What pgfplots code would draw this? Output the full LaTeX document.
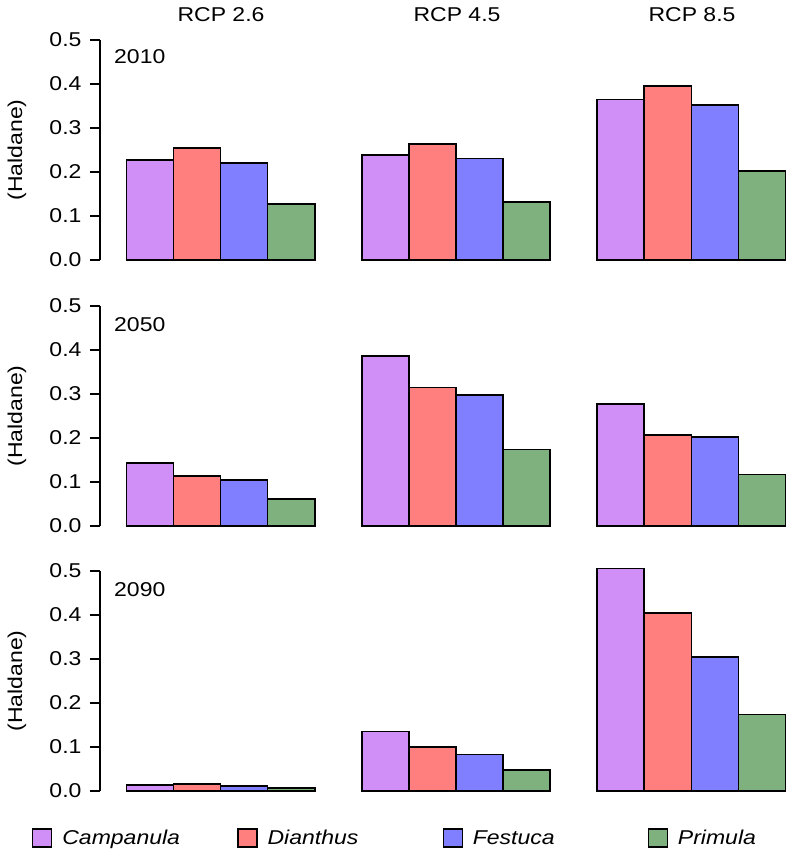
\documentclass[border=0pt]{standalone}
\usepackage{fontspec}
\setmainfont{Liberation Sans}[FakeStretch=1.15]
\usepackage{pgfplots}
\pgfplotsset{compat=1.18}
\definecolor{cCamp}{RGB}{207,143,247}
\definecolor{cDian}{RGB}{255,127,127}
\definecolor{cFest}{RGB}{127,127,255}
\definecolor{cPrim}{RGB}{127,177,127}
\pgfplotsset{
  bar/.style={ybar, bar width=1, bar shift=0pt, draw=black, line width=1.7pt,
    legend image code/.code={\draw[##1, line width=1.2pt] (0pt,-9pt) rectangle (19pt,9pt);}},
  panel/.style={
    scale only axis, width=687pt, height=220pt,
    xmin=0.44, xmax=15.03, ymin=0, ymax=0.5, clip=false,
    axis x line=none, axis y line*=left, xtick=\empty,
    ytick={0,0.1,0.2,0.3,0.4,0.5},
    yticklabel style={xshift=-5pt, /pgf/number format/.cd, fixed, fixed zerofill, precision=1, assume math mode=true},
    tick align=outside, major tick length=10pt,
    tick style={black, line width=1.4pt},
    axis line style={line width=1.4pt},
    tick label style={font=\fontsize{20}{24}\selectfont},
  },
}
\begin{document}
\begin{tikzpicture}
\path[use as bounding box] (0pt,0pt) rectangle (788pt,852pt);
% Row 1: 2010
\begin{axis}[panel, at={(100pt,592pt)}, anchor=south west]
\addplot[bar, fill=cCamp] coordinates {(1.5,0.227) (6.5,0.239) (11.5,0.365)};
\addplot[bar, fill=cDian] coordinates {(2.5,0.254) (7.5,0.263) (12.5,0.396)};
\addplot[bar, fill=cFest] coordinates {(3.5,0.220) (8.5,0.231) (13.5,0.352)};
\addplot[bar, fill=cPrim] coordinates {(4.5,0.127) (9.5,0.132) (14.5,0.203)};
\end{axis}
% Row 2: 2050
\begin{axis}[panel, at={(100pt,326pt)}, anchor=south west]
\addplot[bar, fill=cCamp] coordinates {(1.5,0.143) (6.5,0.386) (11.5,0.277)};
\addplot[bar, fill=cDian] coordinates {(2.5,0.114) (7.5,0.315) (12.5,0.207)};
\addplot[bar, fill=cFest] coordinates {(3.5,0.105) (8.5,0.298) (13.5,0.202)};
\addplot[bar, fill=cPrim] coordinates {(4.5,0.061) (9.5,0.174) (14.5,0.117)};
\end{axis}
% Row 3: 2090
\begin{axis}[panel, at={(100pt,61pt)}, anchor=south west,
  legend columns=4,
  legend style={draw=none, fill=none, inner sep=0pt, at={(-0.099,-0.2136)}, anchor=west,
    nodes={inner sep=0pt}, font=\fontsize{20}{24}\selectfont},
  legend cell align=left]
\addplot[bar, fill=cCamp] coordinates {(1.5,0.013) (6.5,0.135) (11.5,0.506)};
\addplot[bar, fill=cDian] coordinates {(2.5,0.016) (7.5,0.100) (12.5,0.405)};
\addplot[bar, fill=cFest] coordinates {(3.5,0.011) (8.5,0.083) (13.5,0.304)};
\addplot[bar, fill=cPrim] coordinates {(4.5,0.007) (9.5,0.047) (14.5,0.174)};
\legend{\makebox[185pt][l]{\hspace{10pt}\textit{Campanula}},
        \makebox[185pt][l]{\hspace{10pt}\textit{Dianthus}},
        \makebox[185pt][l]{\hspace{10pt}\textit{Festuca}},
        \hspace{10pt}\textit{Primula}}
\end{axis}
% column titles
\begin{scope}[every node/.style={font=\fontsize{20}{24}\selectfont, inner sep=0pt}]
\node at (221pt,837.5pt) {RCP 2.6};
\node at (457pt,837.5pt) {RCP 4.5};
\node at (692pt,837.5pt) {RCP 8.5};
\node[anchor=west] at (114pt,795pt) {2010};
\node[anchor=west] at (114pt,527pt) {2050};
\node[anchor=west] at (114pt,262pt) {2090};
\node[rotate=90] at (17pt,702pt) {(Haldane)};
\node[rotate=90] at (17pt,436pt) {(Haldane)};
\node[rotate=90] at (17pt,171pt) {(Haldane)};
\end{scope}
\end{tikzpicture}
\end{document}
